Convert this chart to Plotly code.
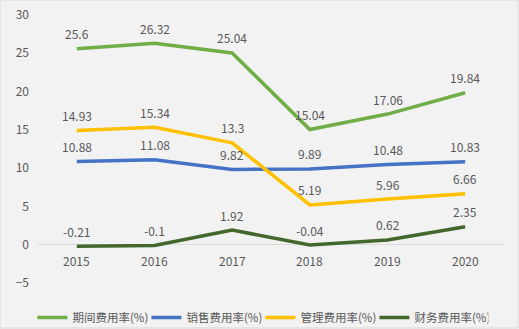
import plotly.graph_objects as go

years = ["2015", "2016", "2017", "2018", "2019", "2020"]
period_rate = [25.6, 26.32, 25.04, 15.04, 17.06, 19.84]
sales_rate = [10.88, 11.08, 9.82, 9.89, 10.48, 10.83]
admin_rate = [14.93, 15.34, 13.3, 5.19, 5.96, 6.66]
finance_rate = [-0.21, -0.1, 1.92, -0.04, 0.62, 2.35]

names = ["期间费用率(%)", "销售费用率(%)", "管理费用率(%)", "财务费用率(%)"]
colors = ["#70ad47", "#4472c4", "#ffc000", "#43682b"]
series = [period_rate, sales_rate, admin_rate, finance_rate]

font_family = "Noto Sans CJK SC, Noto Sans, sans-serif"
label_color = "#595959"

fig = go.Figure()
annotations = []
for name, color, vals in zip(names, colors, series):
    fig.add_trace(go.Scatter(x=years, y=vals, mode="lines", name=name,
                             line=dict(color=color, width=3.5)))
    for i, v in enumerate(vals):
        annotations.append(dict(x=i, y=v, text=str(v), showarrow=False,
                                yshift=15, font=dict(size=12, color=label_color,
                                                     family=font_family)))

ymin, ymax = -5, 30
for i, x in enumerate(years):
    annotations.append(dict(x=i, y=0, text=x, showarrow=False, yshift=-16,
                            font=dict(size=12, color=label_color, family=font_family)))

fig.update_layout(
    width=519, height=329,
    margin=dict(l=38, r=15, t=15, b=46, autoexpand=False),
    paper_bgcolor="#f2f2f2", plot_bgcolor="#f2f2f2",
    font=dict(family=font_family, size=12, color=label_color),
    showlegend=True,
    legend=dict(orientation="h", x=-0.012, xanchor="left", y=-0.075, yanchor="top",
                font=dict(size=11.5, color=label_color), itemwidth=30,
                entrywidth=69, entrywidthmode="pixels",
                bgcolor="rgba(0,0,0,0)"),
    annotations=annotations,
    shapes=[dict(type="rect", xref="paper", yref="paper", x0=-38/466, x1=1+14/466,
                 y0=-45/268, y1=1+15/268, line=dict(color="#d9d9d9", width=1))],
)
fig.update_xaxes(type="category", showticklabels=False, showgrid=False, zeroline=False,
                 showline=False, range=[-0.5, 5.5])
fig.update_yaxes(range=[ymin, ymax], dtick=5, showgrid=False, zeroline=True,
                 zerolinecolor="#d9d9d9", zerolinewidth=1, showline=False,
                 tickfont=dict(size=12, color=label_color), ticks="", ticklabelstandoff=8)

fig.write_html("out.html")
